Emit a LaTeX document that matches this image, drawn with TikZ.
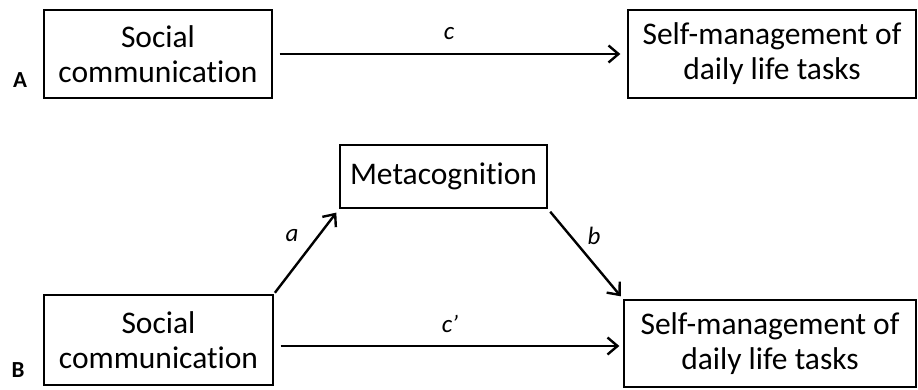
\documentclass[tikz,border=0pt]{standalone}
\usepackage{fontspec}
\setmainfont{Carlito}[Ligatures=NoCommon]
\usetikzlibrary{arrows.meta}
\tikzset{
  box/.style={draw=black, line width=1.3pt, inner sep=0pt, align=center,
    font=\fontsize{31.5}{35}\selectfont},
  arr/.style={line width=2.4pt, -{Straight Barb[length=10pt,width=17pt,line width=2.4pt]}},
  lab/.style={font=\fontsize{25}{29}\selectfont\itshape},
  panel/.style={font=\fontsize{23}{27}\selectfont\bfseries}
}
\begin{document}
\begin{tikzpicture}[x=1pt,y=-1pt]
\useasboundingbox (0,0) rectangle (918,389);
\node[box, minimum width=228pt, minimum height=88pt] (sa) at (158,54) {Social\\communication};
\node[box, minimum width=288pt, minimum height=88pt] (ta) at (772,54) {Self-management of\\daily life tasks};
\node[box, minimum width=207pt, minimum height=63pt] (m) at (443.5,176.5) {Metacognition};
\node[box, minimum width=229pt, minimum height=90pt] (sb) at (158.5,340) {Social\\communication};
\node[box, minimum width=292pt, minimum height=87pt] (tb) at (770,343.5) {Self-management of\\daily life tasks};
\node[panel] (pa) at (20,80) {A};
\node[panel] (pb) at (18,370) {B};
\coordinate (cy) at (0,346);
\draw[arr, shorten <=7pt, shorten >=7pt] (sa.east) -- (ta.west);
\draw[arr, shorten <=7pt, shorten >=4pt] (sb.east |- cy) -- (tb.west |- cy);
\draw[arr, shorten <=2pt, shorten >=5pt] (sb.north east) -- (m.south west);
\draw[arr, shorten <=4pt, shorten >=4pt] (m.south east) -- (tb.north west);
\node[lab] (lc) at (449,34) {c};
\node[lab] (la) at (292,236) {a};
\node[lab] (lb) at (594,236) {b};
\node[lab] (lcp) at (450,324) {c\kern-0.5pt\textquoteright};
\end{tikzpicture}
\end{document}
